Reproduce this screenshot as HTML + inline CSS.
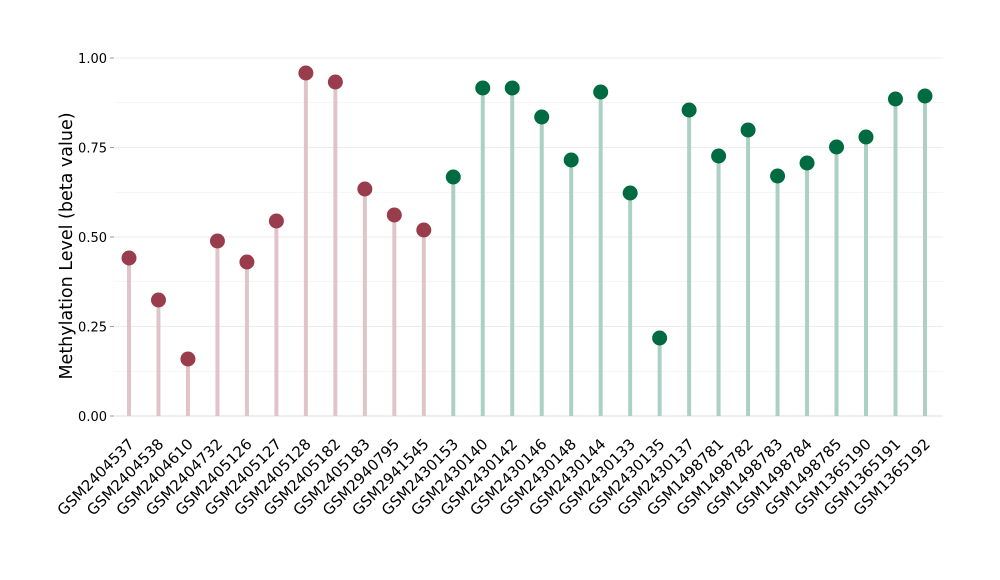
<!DOCTYPE html>
<html><head><meta charset="utf-8"><style>
html,body{margin:0;padding:0;background:#fff;}
svg{display:block;font-family:"DejaVu Sans","Liberation Sans",sans-serif;}
</style></head><body>
<svg id="s" width="1000" height="580" viewBox="0 0 1000 580" xmlns="http://www.w3.org/2000/svg">
<rect width="1000" height="580" fill="#fff"/>
<g id="grid"></g>
<g id="data"></g>
<text transform="translate(72,246) rotate(-90)" text-anchor="middle" font-size="17.5" fill="#000">Methylation Level (beta value)</text>
</svg>
<script>
var labels=["GSM2404537","GSM2404538","GSM2404610","GSM2404732","GSM2405126","GSM2405127","GSM2405128","GSM2405182","GSM2405183","GSM2940795","GSM2941545","GSM2430153","GSM2430140","GSM2430142","GSM2430146","GSM2430148","GSM2430144","GSM2430133","GSM2430135","GSM2430137","GSM1498781","GSM1498782","GSM1498783","GSM1498784","GSM1498785","GSM1365190","GSM1365191","GSM1365192"];
var ys=[258,300,359,241,262,221,73,82,189,215,230,177,88,88,117,160,92,193,338,110,156,130,176,163,147,137,99,96];
var ns="http://www.w3.org/2000/svg";
function el(p,t,a,txt){var e=document.createElementNS(ns,t);for(var k in a)e.setAttribute(k,a[k]);if(txt)e.textContent=txt;p.appendChild(e);return e;}
var g=document.getElementById("grid"),d=document.getElementById("data");
var y0=416,y1=58;
for(var i=0;i<=8;i++){var y=y0-(y0-y1)*i/8;el(g,"line",{x1:115,x2:943,y1:y,y2:y,stroke:i==0?"#dcdcdc":"#ececec","stroke-width":i%2?0.6:1});}
["0.00","0.25","0.50","0.75","1.00"].forEach(function(t,i){var y=y0-(y0-y1)*i/4;el(g,"text",{x:107,y:y+5,"text-anchor":"end","font-size":13,fill:"#000"},t);el(g,"line",{x1:110,x2:114,y1:y,y2:y,stroke:"#999"});});
for(var i=0;i<28;i++){var x=129+i*29.48;var red=i<11;
el(d,"line",{x1:x,x2:x,y1:y0,y2:ys[i],stroke:red?"#e0c4ca":"#acd0c4","stroke-width":4});
el(d,"circle",{cx:x,cy:ys[i],r:7.5,fill:red?"#993d4d":"#006b40"});
el(d,"text",{transform:"translate("+(x+6)+",445) rotate(-45)","text-anchor":"end","font-size":15,fill:"#000"},labels[i]);}
</script>
</body></html>
